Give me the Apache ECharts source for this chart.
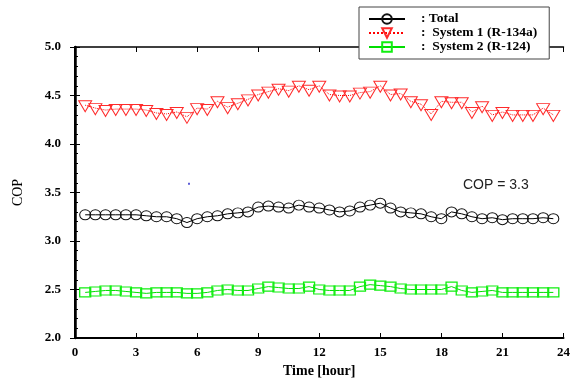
<!DOCTYPE html>
<html>
<head>
<meta charset="utf-8">
<script src="https://cdn.jsdelivr.net/npm/echarts@6/dist/echarts.min.js"></script>
<style>
  html, body { margin: 0; padding: 0; background: #fff; }
  #chart { width: 573px; height: 384px; }
</style>
</head>
<body>
<div id="chart"></div>
<script>
// time of each reading (hour)
const hours = [0.5, 1, 1.5, 2, 2.5, 3, 3.5, 4, 4.5, 5, 5.5, 6, 6.5, 7, 7.5, 8, 8.5, 9, 9.5, 10, 10.5, 11, 11.5, 12,
  12.5, 13, 13.5, 14, 14.5, 15, 15.5, 16, 16.5, 17, 17.5, 18, 18.5, 19, 19.5, 20, 20.5, 21, 21.5, 22, 22.5, 23, 23.5];

const copTotal = [3.27, 3.27, 3.27, 3.27, 3.27, 3.27, 3.26, 3.25, 3.25, 3.23, 3.19, 3.23, 3.25, 3.26, 3.28, 3.29,
  3.30, 3.35, 3.36, 3.35, 3.34, 3.37, 3.35, 3.34, 3.32, 3.30, 3.31, 3.35, 3.37, 3.39, 3.34, 3.30, 3.29, 3.28,
  3.25, 3.23, 3.30, 3.28, 3.25, 3.23, 3.24, 3.22, 3.23, 3.23, 3.23, 3.24, 3.23];

const copSys1 = [4.40, 4.37, 4.35, 4.36, 4.36, 4.36, 4.35, 4.32, 4.31, 4.33, 4.28, 4.37, 4.36, 4.44, 4.38, 4.42,
  4.46, 4.51, 4.54, 4.57, 4.55, 4.60, 4.56, 4.60, 4.51, 4.50, 4.50, 4.53, 4.54, 4.60, 4.51, 4.52, 4.44, 4.41,
  4.31, 4.44, 4.43, 4.43, 4.33, 4.39, 4.30, 4.33, 4.30, 4.30, 4.30, 4.37, 4.30];

const copSys2 = [2.47, 2.48, 2.49, 2.49, 2.48, 2.47, 2.46, 2.47, 2.47, 2.47, 2.46, 2.46, 2.47, 2.49, 2.50, 2.49,
  2.49, 2.51, 2.53, 2.52, 2.51, 2.51, 2.53, 2.50, 2.49, 2.49, 2.49, 2.53, 2.55, 2.54, 2.53, 2.51, 2.50, 2.50,
  2.50, 2.50, 2.53, 2.49, 2.47, 2.48, 2.49, 2.47, 2.47, 2.47, 2.47, 2.47, 2.47];

const seriesNames = [': Total', ':  System 1 (R-134a)', ':  System 2 (R-124)'];
const strayDot = [[5.6, 3.59]];

const pair = (ys) => hours.map((h, i) => [h, ys[i]]);

const chart = echarts.init(document.getElementById('chart'));
const serif = '"Liberation Serif", "Times New Roman", serif';
const tickLabel = { color: '#000', fontFamily: serif, fontWeight: 'bold', fontSize: 13 };

const option = {
  animation: false,
  grid: { left: 75, right: 8, top: 47, bottom: 46 },
  legend: {
    orient: 'vertical',
    left: 359,
    top: 7,
    padding: [5, 12, 5, 9],
    itemGap: 0,
    itemWidth: 36,
    itemHeight: 12,
    backgroundColor: '#fff',
    borderColor: '#444',
    borderWidth: 1,
    textStyle: { color: '#000', fontFamily: serif, fontWeight: 'bold', fontSize: 13.5, padding: [0, 0, 0, 11] },
    data: seriesNames,
    z: 10
  },
  xAxis: [
    {
      type: 'value', min: 0, max: 24, interval: 3,
      name: 'Time [hour]', nameLocation: 'middle', nameGap: 26,
      nameTextStyle: { color: '#000', fontFamily: serif, fontWeight: 'bold', fontSize: 14 },
      axisLine: { show: true, lineStyle: { color: '#000', width: 2 } },
      axisTick: { show: true, inside: true, length: 5, lineStyle: { color: '#000' } },
      axisLabel: Object.assign({ margin: 8 }, tickLabel),
      splitLine: { show: false }
    },
    {
      type: 'value', min: 0, max: 24, interval: 3, position: 'top',
      axisLine: { show: true, lineStyle: { color: '#000', width: 1.5 } },
      axisTick: { show: true, inside: true, length: 5, lineStyle: { color: '#000' } },
      axisLabel: { show: false },
      splitLine: { show: false }
    }
  ],
  yAxis: [
    {
      type: 'value', min: 2, max: 5, interval: 0.5,
      name: 'COP', nameLocation: 'middle', nameGap: 50, nameRotate: 90,
      nameTextStyle: { color: '#000', fontFamily: serif, fontSize: 14 },
      axisLine: { show: true, lineStyle: { color: '#000', width: 2 } },
      axisTick: { show: true, inside: true, length: 5, lineStyle: { color: '#000' } },
      minorTick: { show: true, splitNumber: 5, length: 3, lineStyle: { color: '#000' } },
      axisLabel: Object.assign({ margin: 14, formatter: (v) => v.toFixed(1) }, tickLabel),
      splitLine: { show: false }
    },
    {
      type: 'value', min: 2, max: 5, interval: 0.5, position: 'right',
      axisLine: { show: true, lineStyle: { color: '#000', width: 2.5 } },
      axisTick: { show: true, inside: true, length: 5, lineStyle: { color: '#000' } },
      axisLabel: { show: false },
      splitLine: { show: false }
    }
  ],
  graphic: [
    {
      type: 'text', left: 463, top: 178,
      style: { text: 'COP = 3.3', fill: '#222', font: '14px "Liberation Sans", Arial, sans-serif' }
    }
  ],
  series: [
    {
      name: seriesNames[0], type: 'line', data: pair(copTotal),
      symbol: 'circle', symbolSize: [11, 10],
      lineStyle: { color: '#000', width: 1 },
      itemStyle: { color: 'rgba(255,255,255,0)', borderColor: '#111', borderWidth: 1 }
    },
    {
      name: seriesNames[1], type: 'line', data: pair(copSys1),
      symbol: 'path://M0,0 L12,0 L6,10 Z', symbolSize: [13, 11], symbolOffset: [0, 1],
      lineStyle: { color: '#ff0000', width: 1, type: 'dotted' },
      itemStyle: { color: 'rgba(255,255,255,0)', borderColor: '#ff2a2a', borderWidth: 1 }
    },
    {
      name: seriesNames[2], type: 'line', data: pair(copSys2),
      symbol: 'rect', symbolSize: [11, 9],
      lineStyle: { color: '#00dd00', width: 1 },
      itemStyle: { color: 'rgba(255,255,255,0)', borderColor: '#11ee11', borderWidth: 1.2 }
    },
    {
      name: 'dot', type: 'scatter', data: strayDot,
      symbol: 'rect', symbolSize: 2, itemStyle: { color: '#3333cc' }
    }
  ]
};

chart.setOption(option);
window.addEventListener('resize', chart.resize);
</script>
</body>
</html>
